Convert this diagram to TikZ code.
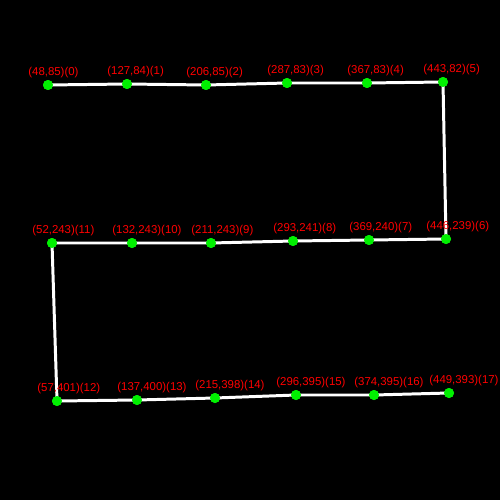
\documentclass[tikz,border=0pt]{standalone}
\usepackage{fontspec}
\setmainfont{Liberation Sans}
\definecolor{ptgreen}{RGB}{0,240,0}

\begin{document}
\begin{tikzpicture}[x=0.02cm,y=-0.02cm,
		pt/.style={circle,fill=ptgreen,inner sep=0pt,minimum size=0.2cm},
		ptlabel/.style={text=red,font=\fontsize{6.5}{7}\selectfont,anchor=base west,inner sep=0pt},
		track/.style={white,line width=1.7pt}]
			\fill[black] (0,0) rectangle (500,500);
			\useasboundingbox (0,0) rectangle (500,500);
			% top row
			\node[pt] (p0) at (48,85) {};
			\node[pt] (p1) at (127,84) {};
			\node[pt] (p2) at (206,85) {};
			\node[pt] (p3) at (287,83) {};
			\node[pt] (p4) at (367,83) {};
			\node[pt] (p5) at (443,82) {};
			% middle row
			\node[pt] (p6) at (446,239) {};
			\node[pt] (p7) at (369,240) {};
			\node[pt] (p8) at (293,241) {};
			\node[pt] (p9) at (211,243) {};
			\node[pt] (p10) at (132,243) {};
			\node[pt] (p11) at (52,243) {};
			% bottom row
			\node[pt] (p12) at (57,401) {};
			\node[pt] (p13) at (137,400) {};
			\node[pt] (p14) at (215,398) {};
			\node[pt] (p15) at (296,395) {};
			\node[pt] (p16) at (374,395) {};
			\node[pt] (p17) at (449,393) {};
			\draw[track] (p0.center) -- (p1.center) -- (p2.center) -- (p3.center) -- (p4.center) -- (p5.center)
				-- (p6.center) -- (p7.center) -- (p8.center) -- (p9.center) -- (p10.center) -- (p11.center)
				-- (p12.center) -- (p13.center) -- (p14.center) -- (p15.center) -- (p16.center) -- (p17.center);
			% dots again over the track
			\foreach \i in {0,...,17}
				\fill[ptgreen] (p\i) circle (0.1cm);
			% labels
			\node[ptlabel] (l0) at (28,75.5) {(48,85)(0)};
			\node[ptlabel] (l1) at (107,74.5) {(127,84)(1)};
			\node[ptlabel] (l2) at (186,75.5) {(206,85)(2)};
			\node[ptlabel] (l3) at (267,73.5) {(287,83)(3)};
			\node[ptlabel] (l4) at (347,73.5) {(367,83)(4)};
			\node[ptlabel] (l5) at (423,72.5) {(443,82)(5)};
			\node[ptlabel] (l6) at (426,229.5) {(446,239)(6)};
			\node[ptlabel] (l7) at (349,230.5) {(369,240)(7)};
			\node[ptlabel] (l8) at (273,231.5) {(293,241)(8)};
			\node[ptlabel] (l9) at (191,233.5) {(211,243)(9)};
			\node[ptlabel] (l10) at (112,233.5) {(132,243)(10)};
			\node[ptlabel] (l11) at (32,233.5) {(52,243)(11)};
			\node[ptlabel] (l12) at (37,391.5) {(57,401)(12)};
			\node[ptlabel] (l13) at (117,390.5) {(137,400)(13)};
			\node[ptlabel] (l14) at (195,388.5) {(215,398)(14)};
			\node[ptlabel] (l15) at (276,385.5) {(296,395)(15)};
			\node[ptlabel] (l16) at (354,385.5) {(374,395)(16)};
			\node[ptlabel] (l17) at (429,383.5) {(449,393)(17)};
		\end{tikzpicture}
\end{document}
